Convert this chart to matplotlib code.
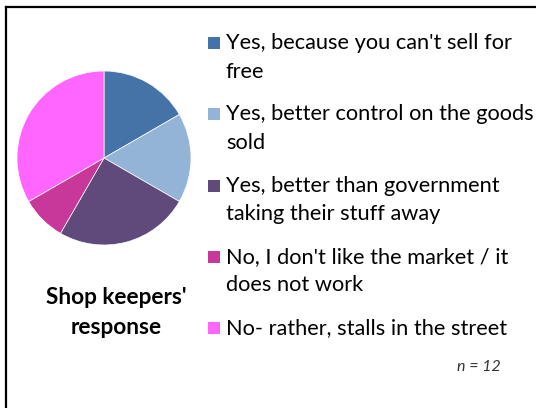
import matplotlib
matplotlib.use("Agg")
import matplotlib.pyplot as plt
from matplotlib.patches import Rectangle
from matplotlib.lines import Line2D

labels = [
    "Yes, because you can't sell for\nfree",
    "Yes, better control on the goods\nsold",
    "Yes, better than government\ntaking their stuff away",
    "No, I don't like the market / it\ndoes not work",
    "No- rather, stalls in the street",
]
counts = [2, 2, 3, 1, 4]
colors = ["#4572A7", "#93B3D7", "#604A7B", "#C8389A", "#FF66FF"]
title = "Shop keepers'\nresponse"
note = "n = 12"

W, H = 536, 408
plt.rcParams["font.family"] = ["Lato", "DejaVu Sans"]
fig = plt.figure(figsize=(W / 100, H / 100), dpi=100)

def fx(px):
    return px / W

def fy(py):
    return 1 - py / H

# frame lines on the top and left
fig.add_artist(Line2D([fx(6), fx(6)], [fy(7), 0], color="black", lw=1.6))
fig.add_artist(Line2D([fx(6), 1], [fy(7), fy(7)], color="black", lw=1.6))

# pie, starting at 12 o'clock and going clockwise
cx, cy, r = 104, 158, 87
ax = fig.add_axes([fx(cx - r), fy(cy + r), (2 * r) / W, (2 * r) / H])
ax.pie(counts, colors=colors, startangle=90, counterclock=False,
       wedgeprops=dict(linewidth=0.5, edgecolor="white"))
ax.set_xlim(-1, 1)
ax.set_ylim(-1, 1)
ax.set_aspect("equal")
ax.axis("off")

# legend entries, one text per line
top = 43
step = 71.3
line_h = 28.5
for i, (lab, col) in enumerate(zip(labels, colors)):
    y = top + i * step
    fig.add_artist(Rectangle((fx(208), fy(y + 6)), 12 / W, 12 / H,
                             facecolor=col, edgecolor="none"))
    for k, part in enumerate(lab.split("\n")):
        fig.text(fx(226), fy(y + k * line_h), part, fontsize=15.7,
                 va="center", ha="left", color="black")

for k, part in enumerate(title.split("\n")):
    fig.text(fx(116), fy(298 + k * 30), part, fontsize=16.3,
             fontweight="bold", ha="center", va="center", color="black")

fig.text(fx(479), fy(367), note, fontsize=11.5, style="italic",
         ha="center", va="center", color="#333333")

fig.savefig("out.png", dpi=100)
